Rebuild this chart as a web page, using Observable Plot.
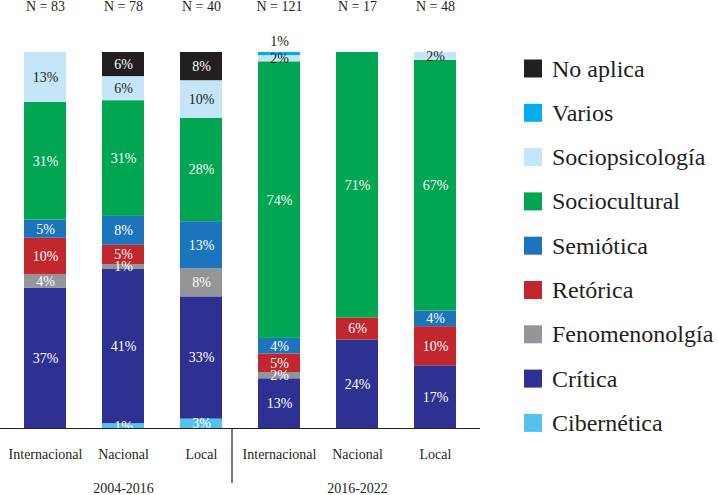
<!DOCTYPE html>
<html>
<head>
<meta charset="utf-8">
<script src="https://cdn.jsdelivr.net/npm/d3@7"></script>
<script src="https://cdn.jsdelivr.net/npm/@observablehq/plot@0.6"></script>
<style>
  html, body { margin: 0; padding: 0; background: #fff; }
  #chart { width: 718px; height: 495px; }
  #chart svg, #chart svg text { font-family: "Liberation Serif", "DejaVu Serif", serif !important; }
</style>
</head>
<body>
<div id="chart"></div>
<script>
// ---- data ----
const periods = ["2004-2016", "2016-2022"];
const groups = ["Internacional", "Nacional", "Local"];
const nValues = [83, 78, 40, 121, 17, 48]; // per bar, period-major

// stacking order, bottom to top
const categories = ["Cibernética", "Crítica", "Fenomenonolgía", "Retórica", "Semiótica",
                    "Sociocultural", "Sociopsicología", "Varios", "No aplica"];
const colors = ["#55c2eb", "#2e3192", "#939598", "#c1272d", "#1c75bc",
                "#00a651", "#c4e6f8", "#00aeef", "#231f20"];

// counts per category for each of the 6 bars
const cibernetica     = [0, 1, 1, 0, 0, 0];
const critica         = [31, 32, 13, 16, 4, 8];
const fenomenologia   = [3, 1, 3, 2, 0, 0];
const retorica        = [8, 4, 0, 6, 1, 5];
const semiotica       = [4, 6, 5, 5, 0, 2];
const sociocultural   = [26, 24, 11, 89, 12, 32];
const sociopsicologia = [11, 5, 4, 2, 0, 1];
const varios          = [0, 0, 0, 1, 0, 0];
const noAplica        = [0, 5, 3, 0, 0, 0];

const counts = [cibernetica, critica, fenomenologia, retorica, semiotica,
                sociocultural, sociopsicologia, varios, noAplica];

// ---- table ----
const bars = periods.flatMap(p => groups.map(g => p + "|" + g));
const rows = [];
bars.forEach((key, i) => {
  categories.forEach((c, j) => {
    const cnt = counts[j][i];
    if (cnt > 0) {
      const pct = 100 * cnt / nValues[i];
      rows.push({bar: key, category: c, pct, label: Math.round(pct) + "%"});
    }
  });
});
const nLabels = bars.map((b, i) => ({bar: b, text: "N = " + nValues[i]}));

const FONT = "Liberation Serif, DejaVu Serif, serif";
const INK = "#231f20";

const chart = Plot.plot({
  width: 718,
  height: 495,
  marginLeft: 0,
  marginRight: 238,
  marginTop: 52,
  marginBottom: 67,
  style: {fontFamily: FONT, fontSize: "14px", background: "white", color: INK},
  x: {domain: bars, paddingInner: 0.465, paddingOuter: 0.29, axis: null},
  y: {domain: [0, 100], axis: null},
  color: {domain: categories, range: colors},
  marks: [
    Plot.barY(rows, {x: "bar", y: "pct", fill: "category", z: "category"}),
    Plot.text(rows, Plot.stackY({
      x: "bar", y: "pct", z: "category",
      text: d => (d.category === "Varios" || d.category === "Sociopsicología") ? null : d.label,
      fill: "white", fontSize: 14
    })),
    Plot.text(rows, Plot.stackY({
      x: "bar", y: "pct", z: "category",
      text: d => d.category === "Sociopsicología" ? d.label : null,
      fill: INK, fontSize: 14
    })),
    Plot.text(rows, Plot.stackY2({
      x: "bar", y: "pct", z: "category",
      text: d => d.category === "Varios" ? d.label : null,
      fill: INK, fontSize: 14, dy: -10.5
    })),
    Plot.ruleY([0], {stroke: INK, strokeWidth: 1.2}),
    Plot.axisX({tickSize: 0, tickPadding: 21, tickFormat: d => d.split("|")[1],
                fontSize: 14, fill: INK, label: null}),
    Plot.text(nLabels, {x: "bar", text: "text", frameAnchor: "top", dy: -45.5,
                        lineAnchor: "middle", fontSize: 14, fill: INK}),
    Plot.text(periods, {x: p => p + "|Nacional", text: d => d, frameAnchor: "bottom",
                        dy: 60, lineAnchor: "middle", fontSize: 14, fill: INK})
  ]
});

document.getElementById("chart").appendChild(chart);

// divider between the periods, placed with the x scale
const xs = chart.scale("x");
const svg = d3.select(chart);
const gap = xs.step - xs.bandwidth;
const xDiv = xs.apply(bars[3]) - gap / 2 - 8;
svg.append("line")
  .attr("x1", xDiv).attr("x2", xDiv)
  .attr("y1", 428).attr("y2", 483)
  .attr("stroke", INK).attr("stroke-width", 1.2);

// legend (top to bottom = reverse stacking order)
const cs = chart.scale("color");
const legendCats = categories.slice().reverse();
const lg = svg.append("g").attr("fill", INK).attr("text-anchor", "start");
legendCats.forEach((c, i) => {
  const cy = 68.5 + i * 44.3;
  lg.append("rect").attr("x", 524).attr("y", cy - 9).attr("width", 18).attr("height", 18)
    .attr("fill", cs.apply(c));
  lg.append("text").attr("x", 552).attr("y", cy + 8)
    .style("font-family", "'Liberation Serif', serif")
    .style("font-size", "24px")
    .attr("text-anchor", "start").text(c);
});
</script>
</body>
</html>
